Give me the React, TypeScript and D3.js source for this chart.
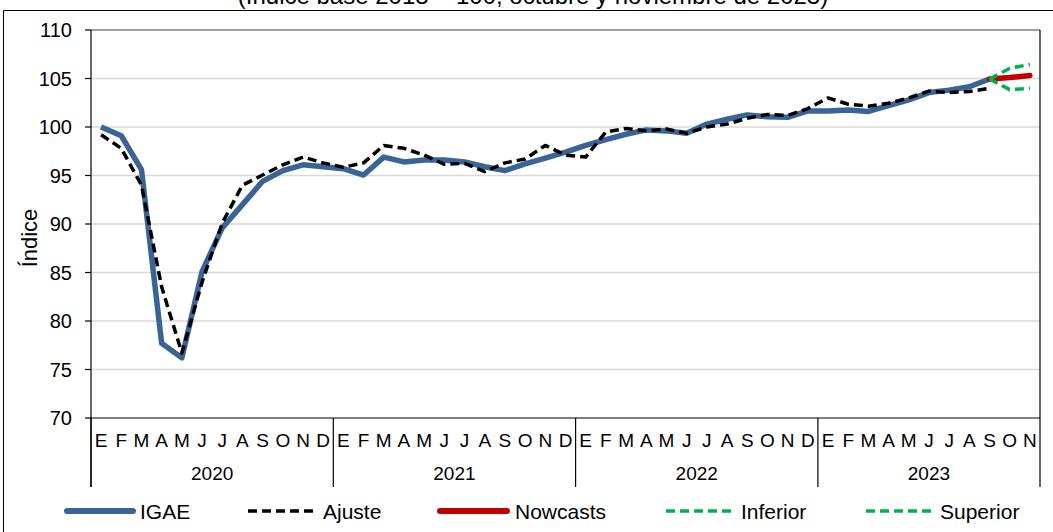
import React from "react";
import * as d3 from "d3";

const monthLetters = ["E", "F", "M", "A", "M", "J", "J", "A", "S", "O", "N", "D"];
const years = ["2020", "2021", "2022", "2023"];
const nMonths = 47; // Ene 2020 .. Nov 2023
const yTicks = [70, 75, 80, 85, 90, 95, 100, 105, 110];

const igae = [
  100.0, 99.1, 95.6, 77.7, 76.2, 85.1, 89.6, 92.0, 94.4, 95.5, 96.1, 95.9,
  95.7, 95.05, 96.9, 96.4, 96.6, 96.6, 96.4, 95.9, 95.5, 96.2, 96.8, 97.4,
  98.1, 98.7, 99.25, 99.7, 99.6, 99.35, 100.3, 100.8, 101.25, 101.05, 101.0, 101.65,
  101.65, 101.75, 101.6, 102.2, 102.8, 103.55, 103.8, 104.15, 104.95,
];
const ajuste = [
  99.2, 97.8, 94.0, 83.5, 76.7, 84.0, 90.1, 94.0, 95.05, 96.1, 96.9, 96.3,
  95.85, 96.3, 98.1, 97.8, 97.1, 96.15, 96.25, 95.4, 96.3, 96.7, 98.1, 97.1,
  96.9, 99.5, 99.85, 99.6, 99.8, 99.35, 100.0, 100.3, 100.9, 101.3, 101.2, 101.9,
  103.0, 102.35, 102.15, 102.45, 103.0, 103.7, 103.55, 103.65, 104.0,
];
const forecastStart = 44;
const nowcasts = [104.95, 105.1, 105.3];
const inferior = [104.95, 103.85, 104.0];
const superior = [104.95, 106.05, 106.45];

const BLUE = "#3A6496";
const RED = "#C00000";
const GREEN = "#00B050";
const FONT = "Liberation Sans, Arial, sans-serif";

export default function App() {
  const W = 1053, H = 532;
  const left = 91, right = 1040, top = 30, bottom = 418;
  const idx = d3.range(nMonths);
  const x = d3.scalePoint<number>().domain(idx).range([left, right]).padding(0.5);
  const step = x.step();
  const y = d3.scaleLinear().domain([70, 110]).range([bottom, top]);

  const line = d3
    .line<[number, number]>()
    .x((d) => x(d[0]) as number)
    .y((d) => y(d[1]));

  const toPts = (arr: number[], start: number) => arr.map((v, i) => [start + i, v] as [number, number]);

  const yearEdges = d3.range(years.length + 1).map((k) => left + Math.min(k * 12, nMonths) * step);

  const legend = [
    { label: "IGAE", color: BLUE, w: 6, dash: "", x1: 67, x2: 133, tx: 140 },
    { label: "Ajuste", color: "#000", w: 3.5, dash: "9,5", x1: 248, x2: 316, tx: 323 },
    { label: "Nowcasts", color: RED, w: 6, dash: "", x1: 440, x2: 507, tx: 515 },
    { label: "Inferior", color: GREEN, w: 3.5, dash: "9,5", x1: 666, x2: 735, tx: 741 },
    { label: "Superior", color: GREEN, w: 3.5, dash: "9,5", x1: 866, x2: 934, tx: 940 },
  ];

  return (
    <svg
      width={W}
      height={H}
      style={{ position: "absolute", left: 0, top: 0, background: "#fff" }}
      fontFamily={FONT}
    >
      <rect x={0} y={0} width={W} height={H} fill="#fff" />
      {/* outer chart border */}
      <line x1={3.5} y1={10.5} x2={W} y2={10.5} stroke="#000" strokeWidth={1} />
      <line x1={3.5} y1={10.5} x2={3.5} y2={H} stroke="#000" strokeWidth={1} />
      {/* title (cut off at top, as in the source) */}
      <text x={533} y={4} textAnchor="middle" fontSize={24} fill="#000">
        (Índice base 2018 = 100, octubre y noviembre de 2023)
      </text>

      {/* gridlines */}
      {yTicks.slice(1, -1).map((t) => (
        <line key={t} x1={left} x2={right} y1={y(t)} y2={y(t)} stroke="#D9D9D9" strokeWidth={1.5} />
      ))}
      {/* plot border top */}
      <line x1={left} x2={right} y1={y(110)} y2={y(110)} stroke="#404040" strokeWidth={1.2} />
      {/* y axis */}
      <line x1={left} x2={left} y1={top} y2={487} stroke="#000" strokeWidth={1.2} />
      {yTicks.map((t) => (
        <g key={t}>
          <line x1={left - 6} x2={left} y1={y(t)} y2={y(t)} stroke="#000" strokeWidth={1.2} />
          <text x={72} y={y(t) + 7} textAnchor="end" fontSize={20} fill="#000">
            {t}
          </text>
        </g>
      ))}
      <text
        transform={`translate(37,${(top + bottom) / 2 + 14}) rotate(-90)`}
        textAnchor="middle"
        fontSize={22}
        fill="#000"
      >
        Índice
      </text>

      {/* x axis */}
      <line x1={left} x2={right} y1={bottom} y2={bottom} stroke="#000" strokeWidth={1.2} />
      {yearEdges.map((xe, k) => (
        <line key={k} x1={xe} x2={xe} y1={k === yearEdges.length - 1 ? top : bottom} y2={487} stroke="#000" strokeWidth={1.2} />
      ))}
      {idx.map((i) => (
        <text key={i} x={x(i)} y={447} textAnchor="middle" fontSize={19} fill="#000">
          {monthLetters[i % 12]}
        </text>
      ))}
      {years.map((yr, k) => (
        <text key={yr} x={(yearEdges[k] + yearEdges[k + 1]) / 2} y={480} textAnchor="middle" fontSize={19} fill="#000">
          {yr}
        </text>
      ))}

      {/* series */}
      <path d={line(toPts(igae, 0)) || ""} fill="none" stroke={BLUE} strokeWidth={5.5} strokeLinejoin="round" />
      <path d={line(toPts(ajuste, 0)) || ""} fill="none" stroke="#000" strokeWidth={3.5} strokeDasharray="9,5" strokeLinejoin="round" />
      <path d={line(toPts(nowcasts, forecastStart)) || ""} fill="none" stroke={RED} strokeWidth={5.5} strokeLinecap="round" />
      <path d={line(toPts(inferior, forecastStart)) || ""} fill="none" stroke={GREEN} strokeWidth={3.5} strokeDasharray="9,5" />
      <path d={line(toPts(superior, forecastStart)) || ""} fill="none" stroke={GREEN} strokeWidth={3.5} strokeDasharray="9,5" />

      {/* legend */}
      {legend.map((l) => (
        <g key={l.label}>
          <line
            x1={l.x1}
            x2={l.x2}
            y1={511}
            y2={511}
            stroke={l.color}
            strokeWidth={l.w}
            strokeDasharray={l.dash || undefined}
            strokeLinecap={l.dash ? "butt" : "round"}
          />
          <text x={l.tx} y={518.5} fontSize={21} fill="#000">
            {l.label}
          </text>
        </g>
      ))}
    </svg>
  );
}
